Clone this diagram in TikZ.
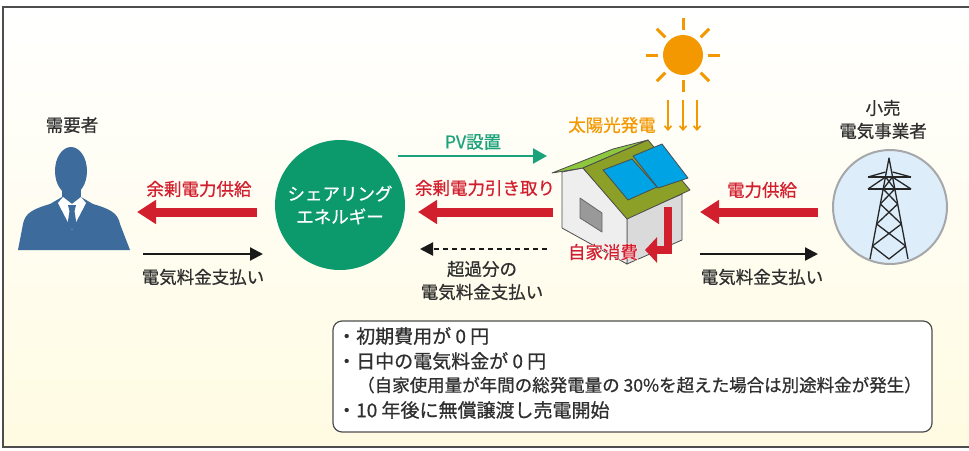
\documentclass[tikz,border=0pt]{standalone}
\usepackage{fontspec}
\setmainfont{Noto Sans CJK JP}[FakeBold=0.7]
\newfontfamily\halofont{Noto Sans CJK JP}[FakeBold=5]
\usepackage{tikz}
\usetikzlibrary{arrows.meta,calc}
\definecolor{ink}{HTML}{2F2F2F}
\definecolor{frameline}{HTML}{4D4D4D}
\definecolor{cream}{HTML}{FFFBE2}
\definecolor{signal}{HTML}{D21F2E}
\definecolor{sharegreen}{HTML}{0C9A6D}
\definecolor{pvgreen}{HTML}{1CA27A}
\definecolor{sunny}{HTML}{F39800}
\definecolor{suit}{HTML}{3D6C9C}
\definecolor{sky}{HTML}{DDEEFA}
\definecolor{rim}{HTML}{A5A7AA}
\definecolor{wallfront}{HTML}{EEEEEE}
\definecolor{wallside}{HTML}{DADADA}
\definecolor{leaf}{HTML}{8DC63F}
\definecolor{olive}{HTML}{8C9F27}
\definecolor{panel}{HTML}{00A3E3}
\newcommand{\lblsize}{\fontsize{17.5pt}{23pt}\selectfont}
\newcommand{\memosize}{\fontsize{19pt}{23pt}\selectfont}
\newcommand{\notesize}{\fontsize{17.5pt}{20pt}\selectfont}
\tikzset{
  font=\lblsize,
  lbl/.style     = {text=ink, inner sep=0pt},
  redlbl/.style  = {text=signal, inner sep=0pt},
  supply/.style  = {-{Triangle[length=19pt,width=23pt]}, draw=signal, line width=9pt},
  pay/.style     = {-{Triangle[length=13pt,width=13pt]}, draw=black!90, line width=2.2pt},
  owed/.style    = {pay, dash pattern=on 5pt off 4pt},
  install/.style = {-{Triangle[length=14pt,width=15pt]}, draw=pvgreen, line width=2.4pt},
  ray/.style     = {draw=sunny, line width=3pt},
  beam/.style    = {-{Straight Barb[length=4pt,width=7pt]}, draw=sunny, line width=1.6pt},
  house/.style   = {draw=black!70, line width=0.8pt, line join=round},
  tower/.style   = {draw=black!85, line width=1.3pt, line join=round},
  memo/.style    = {draw=frameline, fill=white, rounded corners=9pt, line width=1.2pt},
}

\begin{document}
\begin{tikzpicture}[x=1pt, y=-1pt]
\useasboundingbox (0,0) rectangle (969,450);

% ---- panel background -------------------------------------------------
\fill[top color=white, middle color=white, bottom color=cream] (3,7) rectangle (969,447);
\draw[frameline, line width=1.5pt] (969,7) -- (3,7) -- (3,447) -- (969,447);

% ---- customer (x = 72) ------------------------------------------------
\node[lbl] (user) at (72,125) {需要者};
\fill[suit] (71,171) ellipse [x radius=16, y radius=24];
\fill[suit] (62,180) rectangle (81,200);
\fill[suit] (18,250) -- (23,224) .. controls (25,213) and (33,209) .. (50,204)
  -- (62,197) -- (81,197) -- (93,204) .. controls (110,209) and (118,213) .. (120,224)
  -- (130,250) -- cycle;
\fill[white] (58,203) -- (63,197) -- (72,204) -- (81,197) -- (86,203) -- (72,230) -- cycle;
\fill[suit] (68,205) -- (76,205) -- (74.5,211) -- (76.5,224) -- (72,230)
  -- (67.5,224) -- (69.5,211) -- cycle;

% ---- sharing energy (x = 340) -----------------------------------------
\node[circle, fill=sharegreen, minimum size=130pt, inner sep=0pt, text=white,
      align=center] (share) at (340,205) {シェアリング\\エネルギー};

% ---- sun and house (x = 620) ------------------------------------------
\node[circle, fill=sunny, minimum size=40pt, inner sep=0pt] (sun) at (683,55) {};
\foreach \a in {0,45,...,315}
  \draw[ray] (sun.center) ++(\a:25) -- ++(\a:12);
\foreach \x in {668,683,697}
  \draw[beam] (\x,100) -- (\x,131);
\node[lbl, text=sunny] (pvgen) at (612,125) {太陽光発電};

\filldraw[house, fill=wallside]  (627,218) -- (682,194) -- (682,240) -- (627,264) -- cycle;
\filldraw[house, fill=wallfront] (562,172) -- (583,168) -- (627,218) -- (627,264) -- (562,228) -- cycle;
\filldraw[house, fill=black!40, draw=black!60] (580,198) -- (602,213) -- (602,232) -- (580,218) -- cycle;
\filldraw[house, fill=leaf]  (552,173) -- (613,149) -- (648,140) -- (583,168) -- cycle;
\filldraw[house, fill=olive] (583,168) -- (648,140) -- (690,190) -- (627,219) -- cycle;
\filldraw[house, fill=panel] (603,170) -- (632,159) -- (657,187) -- (628,200) -- cycle;
\filldraw[house, fill=panel] (633,156) -- (662,144) -- (688,178) -- (658,188) -- cycle;

% self consumption, bent down and back to the left
\coordinate (selfTop) at (668,207);
\coordinate (selfEnd) at (645,250);
\draw[signal, line width=8pt, -{Triangle[length=12pt,width=25pt]}]
  (selfTop) |- (selfEnd);
\node[text=white, inner sep=0pt, font=\halofont\lblsize] (selfhalo) at (603,252) {自家消費};
\node[redlbl] (selfuse) at (603,252) {自家消費};

% ---- retail utility (x = 890) -----------------------------------------
\node[lbl, align=center] (retailer) at (883,119.5) {小売\\電気事業者};
\node[circle, fill=sky, draw=rim, line width=2pt, minimum size=114pt] (retail) at (890,207) {};
% pylon
\draw[tower] (870,259) -- (889,158) -- (908,259);
\draw[tower] (868,177) -- (911,177) (868,189) -- (911,189);
\draw[tower] (868,177) -- (885.5,172) (911,177) -- (892.5,172);
\draw[tower] (868,189) -- (885.6,177) -- (894.8,189) (911,189) -- (892.4,177) -- (883.2,189);
\draw[tower] (883.2,189) -- (897.7,204) (894.8,189) -- (880.3,204)
             (880.3,204) -- (901.4,224) (897.7,204) -- (876.6,224)
             (876.6,224) -- (905.6,246) (901.4,224) -- (872.4,246)
             (872.4,246) -- (889,259) -- (905.6,246);

% ---- arrow ends -------------------------------------------------------
\coordinate (uFeed) at (137,212);  \coordinate (sFeed) at (257,212);
\coordinate (uPay)  at (143,254);  \coordinate (sPay)  at (263,254);
\coordinate (sPV)   at (398,156);  \coordinate (hPV)   at (547,156);
\coordinate (sTake) at (418,212);  \coordinate (hTake) at (553,212);
\coordinate (sOwe)  at (420,249);  \coordinate (hOwe)  at (547,249);
\coordinate (hGrid) at (700,212);  \coordinate (rGrid) at (818,212);
\coordinate (hBill) at (700,254);  \coordinate (rBill) at (818,254);

% ---- flows ------------------------------------------------------------
\draw[supply] (sFeed) -- (uFeed);
\node[redlbl] (feedlbl) at (199,189) {余剰電力供給};
\draw[pay] (uPay) -- (sPay);
\node[lbl] (paylbl) at (203,277) {電気料金支払い};

\draw[install] (sPV) -- (hPV);
\node[lbl, text=pvgreen] (pvlbl) at (473,142) {PV設置};
\draw[supply] (hTake) -- (sTake);
\node[redlbl] (takelbl) at (485,188) {余剰電力引き取り};
\draw[owed] (hOwe) -- (sOwe);
\node[lbl, align=center] (owelbl) at (482,280.5) {超過分の\\電気料金支払い};

\draw[supply] (rGrid) -- (hGrid);
\node[redlbl] (gridlbl) at (762,190) {電力供給};
\draw[pay] (hBill) -- (rBill);
\node[lbl] (billlbl) at (762,277) {電気料金支払い};

% ---- terms ------------------------------------------------------------
\node[memo, minimum width=599pt, minimum height=111pt] (memo) at (632.5,376.5) {};
\node[lbl, anchor=west, font=\memosize] (perk1) at (337,336) {・初期費用が 0 円};
\node[lbl, anchor=west, font=\memosize] (perk2) at (337,361) {・日中の電気料金が 0 円};
\node[lbl, anchor=west, font=\notesize] (perknote) at (357,385)
  {（自家使用量が年間の総発電量の 30\%を超えた場合は別途料金が発生）};
\node[lbl, anchor=west, font=\memosize] (perk3) at (337,410) {・10 年後に無償譲渡し売電開始};

\end{tikzpicture}
\end{document}
